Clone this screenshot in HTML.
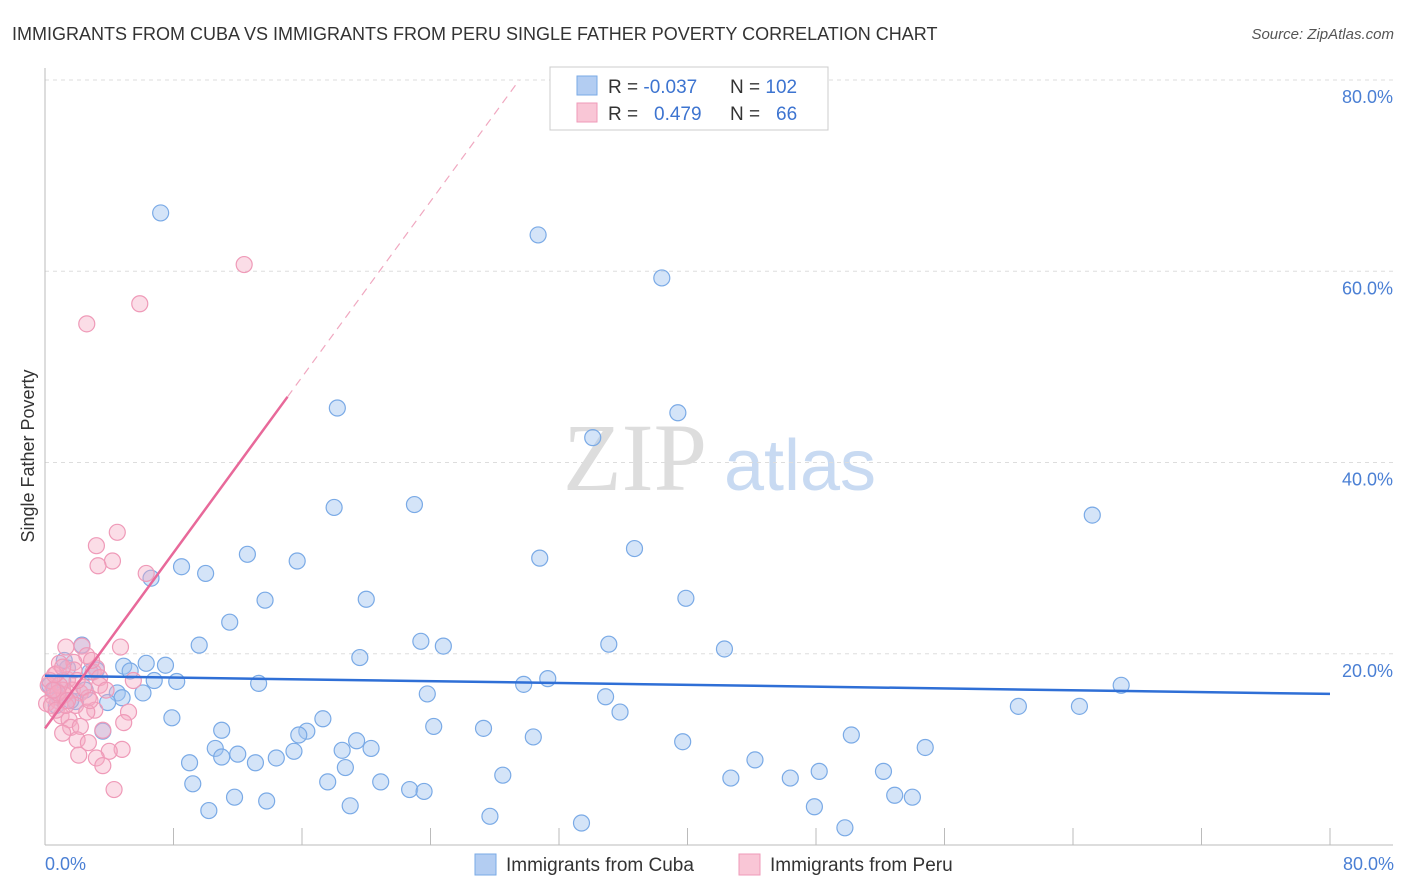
<!DOCTYPE html>
<html><head><meta charset="utf-8"><style>
body{margin:0;background:#fff;font-family:"Liberation Sans",sans-serif}
svg{display:block}
</style></head><body>
<svg width="1406" height="892" xmlns="http://www.w3.org/2000/svg">
<text x="12" y="40" font-size="18" fill="#333">IMMIGRANTS FROM CUBA VS IMMIGRANTS FROM PERU SINGLE FATHER POVERTY CORRELATION CHART</text>
<text x="1394" y="39" font-size="15" fill="#555" font-style="italic" text-anchor="end">Source: ZipAtlas.com</text>
<g>
<text x="635" y="490" font-size="96" font-family="Liberation Serif,serif" fill="#ddd" text-anchor="middle">ZIP</text>
<text x="800" y="490" font-size="72" fill="#c8daf2" text-anchor="middle">atlas</text>
</g>
<g id="grid"></g>
<g id="axes"></g>
<g id="marks"></g>
<text transform="translate(34,456) rotate(-90)" font-size="18" fill="#333" text-anchor="middle">Single Father Poverty</text>
<text x="45" y="870" font-size="18" fill="#4a7fd4">0.0%</text>
<text x="1394" y="870" font-size="18" fill="#4a7fd4" text-anchor="end">80.0%</text>
<g>
<rect x="550" y="67" width="278" height="63" fill="#fff" stroke="#ccc"/>
<rect x="577" y="76" width="20" height="19" fill="#b3cdf2" stroke="#7aaae6"/>
<rect x="577" y="103" width="20" height="19" fill="#f9c6d6" stroke="#ef9ab8"/>
<text x="608" y="93" font-size="19" fill="#333">R = <tspan fill="#3d74d0">-0.037</tspan><tspan x="730">N = </tspan><tspan fill="#3d74d0">102</tspan></text>
<text x="608" y="120" font-size="19" fill="#333">R = <tspan x="654" fill="#3d74d0">0.479</tspan><tspan x="730">N = </tspan><tspan x="776" fill="#3d74d0">66</tspan></text>
</g>
<g>
<rect x="475" y="854" width="21" height="21" fill="#b3cdf2" stroke="#7aaae6"/>
<text x="506" y="871" font-size="19" fill="#333">Immigrants from Cuba</text>
<rect x="739" y="854" width="21" height="21" fill="#f9c6d6" stroke="#ef9ab8"/>
<text x="770" y="871" font-size="19" fill="#333">Immigrants from Peru</text>
</g>
<script>
const yTicks=[20,40,60,80];
const yTickLabels=["20.0%","40.0%","60.0%","80.0%"];
const xTicks=[0,8,16,24,32,40,48,56,64,72,80];
const cubaX=[7.2,30.7,38.4,18.2,39.4,34.1,18.0,23.0,65.2,12.6,30.8,36.7,15.7,8.5,10.0,6.6,13.7,20.0,39.9,11.5,9.6,23.4,24.8,35.1,42.3,2.3,19.6,6.3,7.5,4.9,1.4,3.2,5.3,6.8,8.2,13.3,31.3,29.8,67.0,4.5,6.1,4.8,0.9,1.9,3.9,23.8,34.9,35.8,60.6,64.4,7.9,17.3,11.0,24.2,27.3,16.3,15.8,30.4,3.6,50.2,39.7,10.6,12.0,19.4,20.3,15.5,18.5,11.0,13.1,14.4,9.0,54.8,44.2,18.7,28.5,48.2,52.2,42.7,46.4,9.2,17.6,20.9,22.7,23.6,11.8,13.8,52.9,54.0,19.0,10.2,47.9,27.7,33.4,49.8,0.3,0.6,1.1,1.6,2.5,2.8,0.7,1.2];
const cubaY=[66.1,63.8,59.3,45.7,45.2,42.6,35.3,35.6,34.5,30.4,30.0,31.0,29.7,29.1,28.4,27.9,25.6,25.7,25.8,23.3,20.9,21.3,20.8,21.0,20.5,20.9,19.6,19.0,18.8,18.7,18.5,18.3,18.2,17.2,17.1,16.9,17.4,16.8,16.7,15.9,15.9,15.4,15.4,15.0,14.9,15.8,15.5,13.9,14.5,14.5,13.3,13.2,12.0,12.4,12.2,11.9,11.5,11.3,11.9,11.5,10.8,10.1,9.5,10.9,10.1,9.8,9.9,9.2,8.6,9.1,8.6,10.2,8.9,8.1,7.3,7.7,7.7,7.0,7.0,6.4,6.6,6.6,5.8,5.6,5.0,4.6,5.2,5.0,4.1,3.6,4.0,3.0,2.3,1.8,16.7,16.2,17.2,15.1,16.2,18.1,14.6,19.3];
const peruX=[12.4,5.9,2.6,4.5,3.2,4.2,3.3,6.3,2.3,4.7,1.3,2.6,0.9,1.8,3.2,3.0,0.7,3.4,1.4,5.5,0.2,1.1,1.7,2.2,0.5,2.7,0.8,0.1,1.9,3.1,2.6,5.2,1.0,1.5,4.9,1.6,2.2,3.6,1.1,2.0,2.7,4.8,4.0,2.1,3.2,3.6,4.3,0.4,0.7,0.3,1.2,0.9,0.6,2.4,1.3,1.8,2.9,3.4,0.8,1.1,0.5,1.4,2.0,2.8,3.8];
const peruY=[60.7,56.6,54.5,32.7,31.3,29.7,29.2,28.4,20.8,20.7,20.7,19.8,19.0,19.1,18.5,18.1,17.9,17.5,17.3,17.2,16.7,16.2,16.2,15.9,15.5,15.4,15.1,14.8,14.6,14.1,13.9,13.9,13.5,13.1,12.8,12.3,12.4,12.0,11.7,11.0,10.7,10.0,9.8,9.4,9.1,8.3,5.8,14.6,14.1,17.2,15.7,16.7,17.8,16.5,14.6,18.3,19.3,16.7,15.9,18.6,16.2,15.1,17.2,15.1,16.2];
const cubaTrend=[17.7,15.8];
const peruTrend=[12.2,2.296];
const X0=45,X1=1330,Y0=845,Y80=80;
const sx=v=>X0+(v/80)*(X1-X0);
const sy=v=>Y0-(v/80)*(Y0-Y80);
const NS="http://www.w3.org/2000/svg";
function mk(tag,attrs,parent){const e=document.createElementNS(NS,tag);for(const k in attrs)e.setAttribute(k,attrs[k]);parent.appendChild(e);return e;}
const grid=document.getElementById('grid'),axes=document.getElementById('axes'),marks=document.getElementById('marks');
yTicks.forEach((t,i)=>{
 const l=mk('line',{x1:X0,x2:1393,y1:sy(t),y2:sy(t),stroke:'#ddd','stroke-dasharray':'4,4'},grid);
 
 
 const tx=mk('text',{x:1393,y:sy(t)+23,'font-size':18,fill:'#4a7fd4','text-anchor':'end'},grid);
 tx.textContent=yTickLabels[i];
 
 
});
const ax=mk('line',{x1:X0,x2:X0,y1:68,y2:Y0,stroke:'#bbb'},axes);


const bx=mk('line',{x1:X0,x2:1393,y1:Y0,y2:Y0,stroke:'#bbb'},axes);


xTicks.forEach(t=>{
 const l=mk('line',{x1:sx(t),x2:sx(t),y1:828,y2:Y0,stroke:'#bbb'},axes);
 
 
});
cubaX.forEach((v,i)=>{
 const c=mk('circle',{cx:sx(v),cy:sy(cubaY[i]),r:8,fill:'rgba(160,196,240,0.45)',stroke:'#7aaae6','stroke-width':1.2},marks);
 
 
});
peruX.forEach((v,i)=>{
 const c=mk('circle',{cx:sx(v),cy:sy(peruY[i]),r:8,fill:'rgba(245,170,195,0.4)',stroke:'#ef9ab8','stroke-width':1.2},marks);
 
 
});
const bl=mk('line',{x1:sx(0),y1:sy(cubaTrend[0]),x2:sx(80),y2:sy(cubaTrend[1]),stroke:'#2f6fd6','stroke-width':2.5},marks);


const xs=15.1,xe=(80-peruTrend[0])/peruTrend[1];
const pl=mk('line',{x1:sx(0),y1:sy(peruTrend[0]),x2:sx(xs),y2:sy(peruTrend[0]+peruTrend[1]*xs),stroke:'#e8699a','stroke-width':2.5},marks);


const pd=mk('line',{x1:sx(xs),y1:sy(peruTrend[0]+peruTrend[1]*xs),x2:sx(xe),y2:sy(80),stroke:'#f0a8c0','stroke-width':1.2,'stroke-dasharray':'8,6'},marks);


</script>
</svg>
</body></html>
